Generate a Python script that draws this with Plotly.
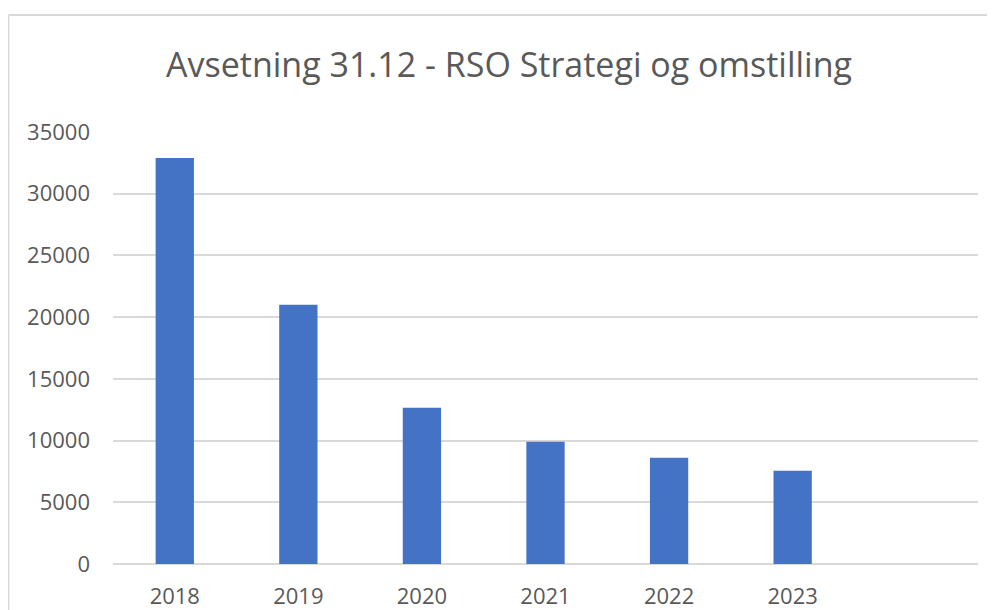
import plotly.graph_objects as go

categories = ["2018", "2019", "2020", "2021", "2022", "2023", " "]
values = [32900, 21000, 12650, 9900, 8600, 7550, None]
y_ticks = [0, 5000, 10000, 15000, 20000, 25000, 30000, 35000]
title_text = "Avsetning 31.12 - RSO Strategi og omstilling"

OFF = 8  # page body margin
W, H = 995 - OFF, 610 - OFF
L, R, T, B = 113 - OFF, 17, 132 - OFF, 46
pw, ph = W - L - R, H - T - B

fig = go.Figure(go.Bar(x=categories, y=values, marker=dict(color="#4472C4", line=dict(width=0)),
                       hoverinfo="x+y"))

def px2x(px):
    return (px - OFF - L) / pw

def py2y(py):
    return (H - B - (py - OFF)) / ph

fig.update_layout(
    width=W, height=H,
    margin=dict(l=L, r=R, t=T, b=B, autoexpand=False),
    paper_bgcolor="white", plot_bgcolor="white",
    bargap=0.69,
    showlegend=False,
    font=dict(family="Open Sans", color="#595959"),
    title=dict(text=title_text, x=(509 - OFF) / W, xanchor="center", y=1 - (65 - OFF) / H, yanchor="middle",
               xref="container", yref="container",
               font=dict(family="Open Sans", size=34, color="#595959")),
    xaxis=dict(type="category", showgrid=False, showline=False, ticks="", automargin=False,
               tickfont=dict(size=22, color="#595959"), ticklabelstandoff=17),
    yaxis=dict(range=[0, 35000], tickvals=y_ticks, ticktext=[str(v) for v in y_ticks],
               showgrid=True, gridcolor="#d9d9d9", gridwidth=2, automargin=False,
               zeroline=True, zerolinecolor="#d9d9d9", zerolinewidth=2,
               showline=False, ticks="", tickfont=dict(size=22, color="#595959"),
               ticklabelstandoff=22),
    shapes=[
        dict(type="line", xref="paper", yref="paper", x0=px2x(8.5), x1=px2x(8.5), y0=py2y(15), y1=py2y(640),
             line=dict(color="#d9d9d9", width=2)),
        dict(type="line", xref="paper", yref="paper", x0=px2x(8.5), x1=px2x(1010), y0=py2y(15), y1=py2y(15),
             line=dict(color="#d9d9d9", width=2)),
    ],
)

fig.write_html("out.html")
